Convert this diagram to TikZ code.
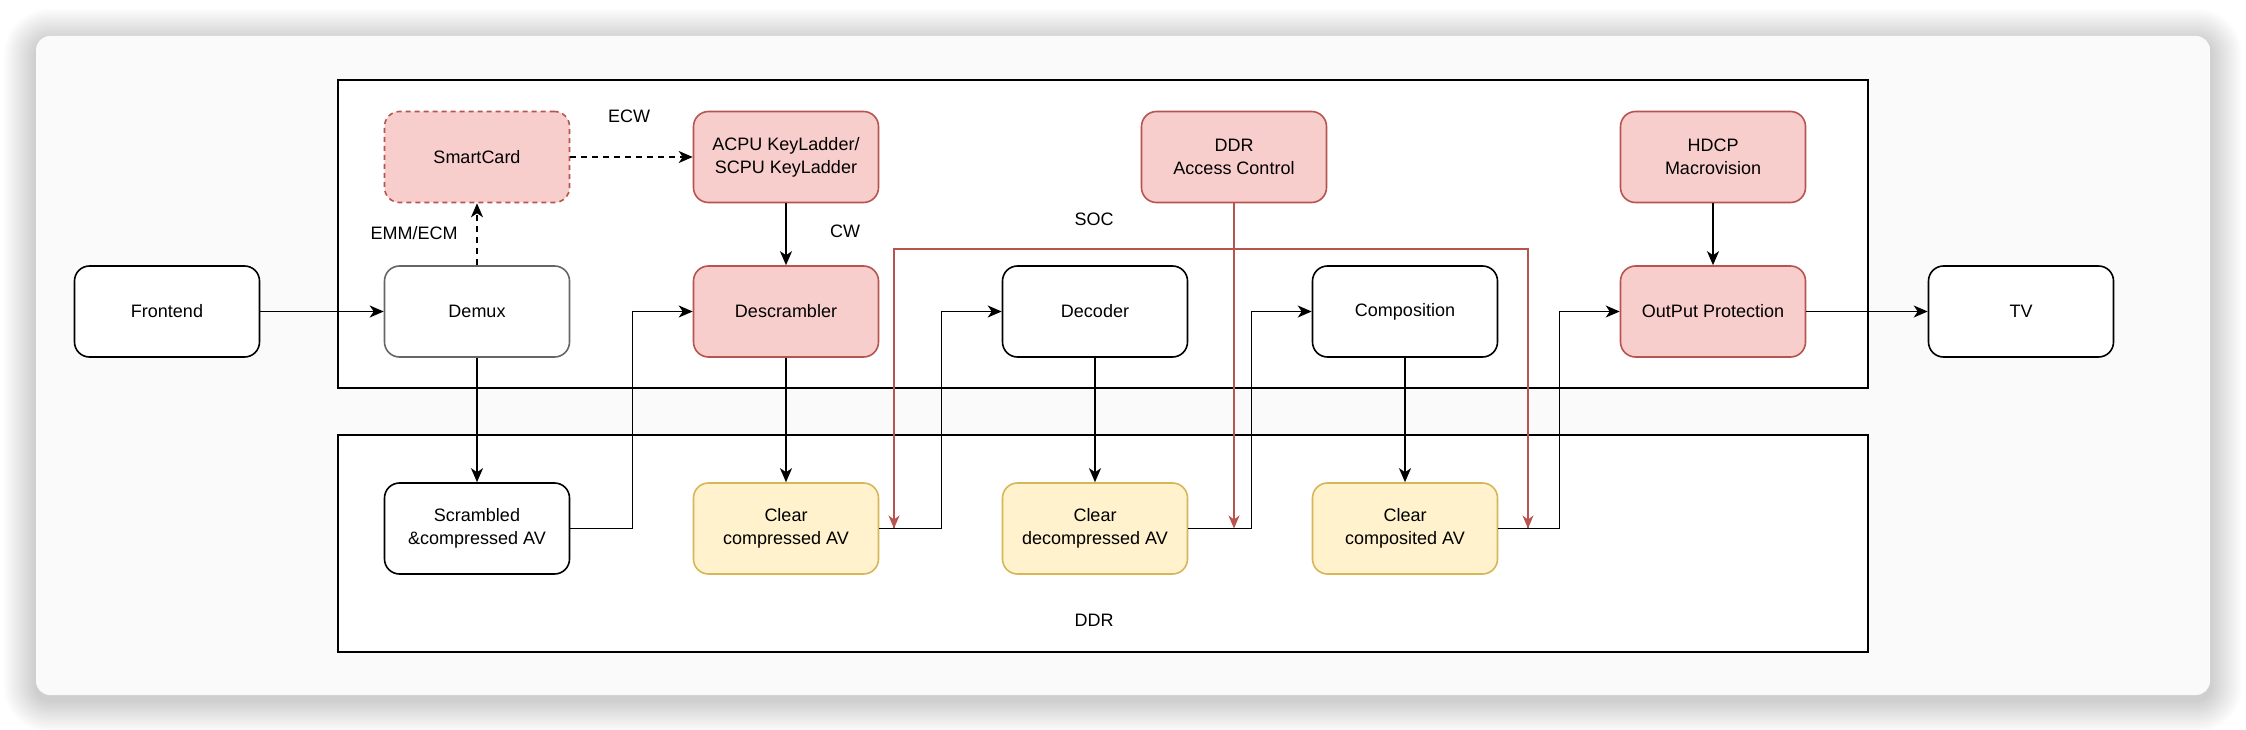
\documentclass[tikz,border=0pt]{standalone}
\usepackage{fontspec}
\setmainfont{Liberation Sans}
\usetikzlibrary{arrows.meta}
\definecolor{redfill}{HTML}{F8CECC}
\definecolor{redline}{HTML}{B85450}
\definecolor{yelfill}{HTML}{FFF2CC}
\definecolor{yelline}{HTML}{D6B656}
\definecolor{cardbg}{HTML}{FAFAFA}
\definecolor{demuxline}{HTML}{666666}
\begin{document}
\begin{tikzpicture}[x=1pt,y=-1pt,
  box/.style={draw=black, fill=white, rounded corners=15pt, minimum width=185pt, minimum height=91pt, line width=1.6pt, align=center, font=\fontsize{18}{23}\selectfont, inner sep=0pt},
  redbox/.style={box, fill=redfill, draw=redline},
  yelbox/.style={box, fill=yelfill, draw=yelline},
  region/.style={draw=black, fill=white, line width=1.6pt, inner sep=0pt},
  lbl/.style={font=\fontsize{18}{23}\selectfont, inner sep=0pt},
  arr/.style={draw=black, line width=1.6pt, -{Stealth[length=14pt,width=12pt,inset=4pt]}},
  redarr/.style={draw=redline, line width=1.4pt, -{Stealth[length=13pt,width=11pt,inset=4pt]}},
  dasharr/.style={arr, dash pattern=on 6pt off 5pt}
]
\useasboundingbox (0,0) rectangle (2246,730);
\fill[white] (0,0) rectangle (2246,730);
% soft shadow of the card
\foreach \i in {32,30,...,2}{
  \fill[black, opacity=0.011, rounded corners=14pt+\i pt] (36-\i,36-\i+5) rectangle (2210+\i,695+\i+5);
}
\fill[cardbg, rounded corners=14pt] (36,36) rectangle (2210,695);

% regions
\node[region, minimum width=1530pt, minimum height=308pt] (soc) at (1103,234) {};
\node[region, minimum width=1530pt, minimum height=217pt] (ddr) at (1103,543.5) {};
\node[lbl] (soclbl) at (1094,219) {SOC};
\node[lbl] (ddrlbl) at (1094,620) {DDR};

% top row
\node[redbox, dash pattern=on 5pt off 4pt] (sc) at (477,157) {SmartCard};
\node[redbox] (kl) at (786,157) {ACPU KeyLadder/\\SCPU KeyLadder};
\node[redbox] (ddrac) at (1234,157) {DDR\\Access Control};
\node[redbox] (hdcp) at (1713,157) {HDCP\\Macrovision};

% middle row
\node[box] (fe) at (167,311.5) {Frontend};
\node[box, draw=demuxline] (demux) at (477,311.5) {Demux};
\node[redbox] (desc) at (786,311.5) {Descrambler};
\node[box] (dec) at (1095,311.5) {Decoder};
\node[box] (comp) at (1405,311.5) {Composition};
\node[redbox] (op) at (1713,311.5) {OutPut Protection};
\node[box] (tv) at (2021,311.5) {TV};

% bottom row
\node[box] (scr) at (477,528.5) {Scrambled\\\&compressed AV};
\node[yelbox] (cc) at (786,528.5) {Clear\\compressed AV};
\node[yelbox] (cd) at (1095,528.5) {Clear\\decompressed AV};
\node[yelbox] (cp) at (1405,528.5) {Clear\\composited AV};

% labels
\node[lbl] (ecw) at (629,116) {ECW};
\node[lbl] (emm) at (414,233) {EMM/ECM};
\node[lbl] (cw) at (845,231) {CW};

% red control lines
\coordinate (rj) at (1234,249);
\coordinate (rl) at (894,528.5);
\coordinate (rr) at (1528,528.5);
\draw[redline, line width=1.4pt] (rj) -| (rl);
\draw[redarr] (rj) ++(-340,0) -- (rl);
\draw[redline, line width=1.4pt] (rj) -| (rr);
\draw[redarr] (rj) ++(294,0) -- (rr);
\draw[redarr] (ddrac.south) -- (ddrac.south |- cd.east);

% black connectors
\draw[arr] (fe.east) -- (demux.west);
\draw[dasharr] (demux.north) -- (sc.south);
\draw[dasharr] (sc.east) -- (kl.west);
\draw[arr] (kl.south) -- (desc.north);
\draw[arr] (demux.south) -- (scr.north);
\draw[arr] (scr.east) -- +(62,0) |- (desc.west);
\draw[arr] (desc.south) -- (cc.north);
\draw[arr] (cc.east) -- +(62,0) |- (dec.west);
\draw[arr] (dec.south) -- (cd.north);
\draw[arr] (cd.east) -- +(63,0) |- (comp.west);
\draw[arr] (comp.south) -- (cp.north);
\draw[arr] (cp.east) -- +(61,0) |- (op.west);
\draw[arr] (hdcp.south) -- (op.north);
\draw[arr] (op.east) -- (tv.west);
\end{tikzpicture}
\end{document}
